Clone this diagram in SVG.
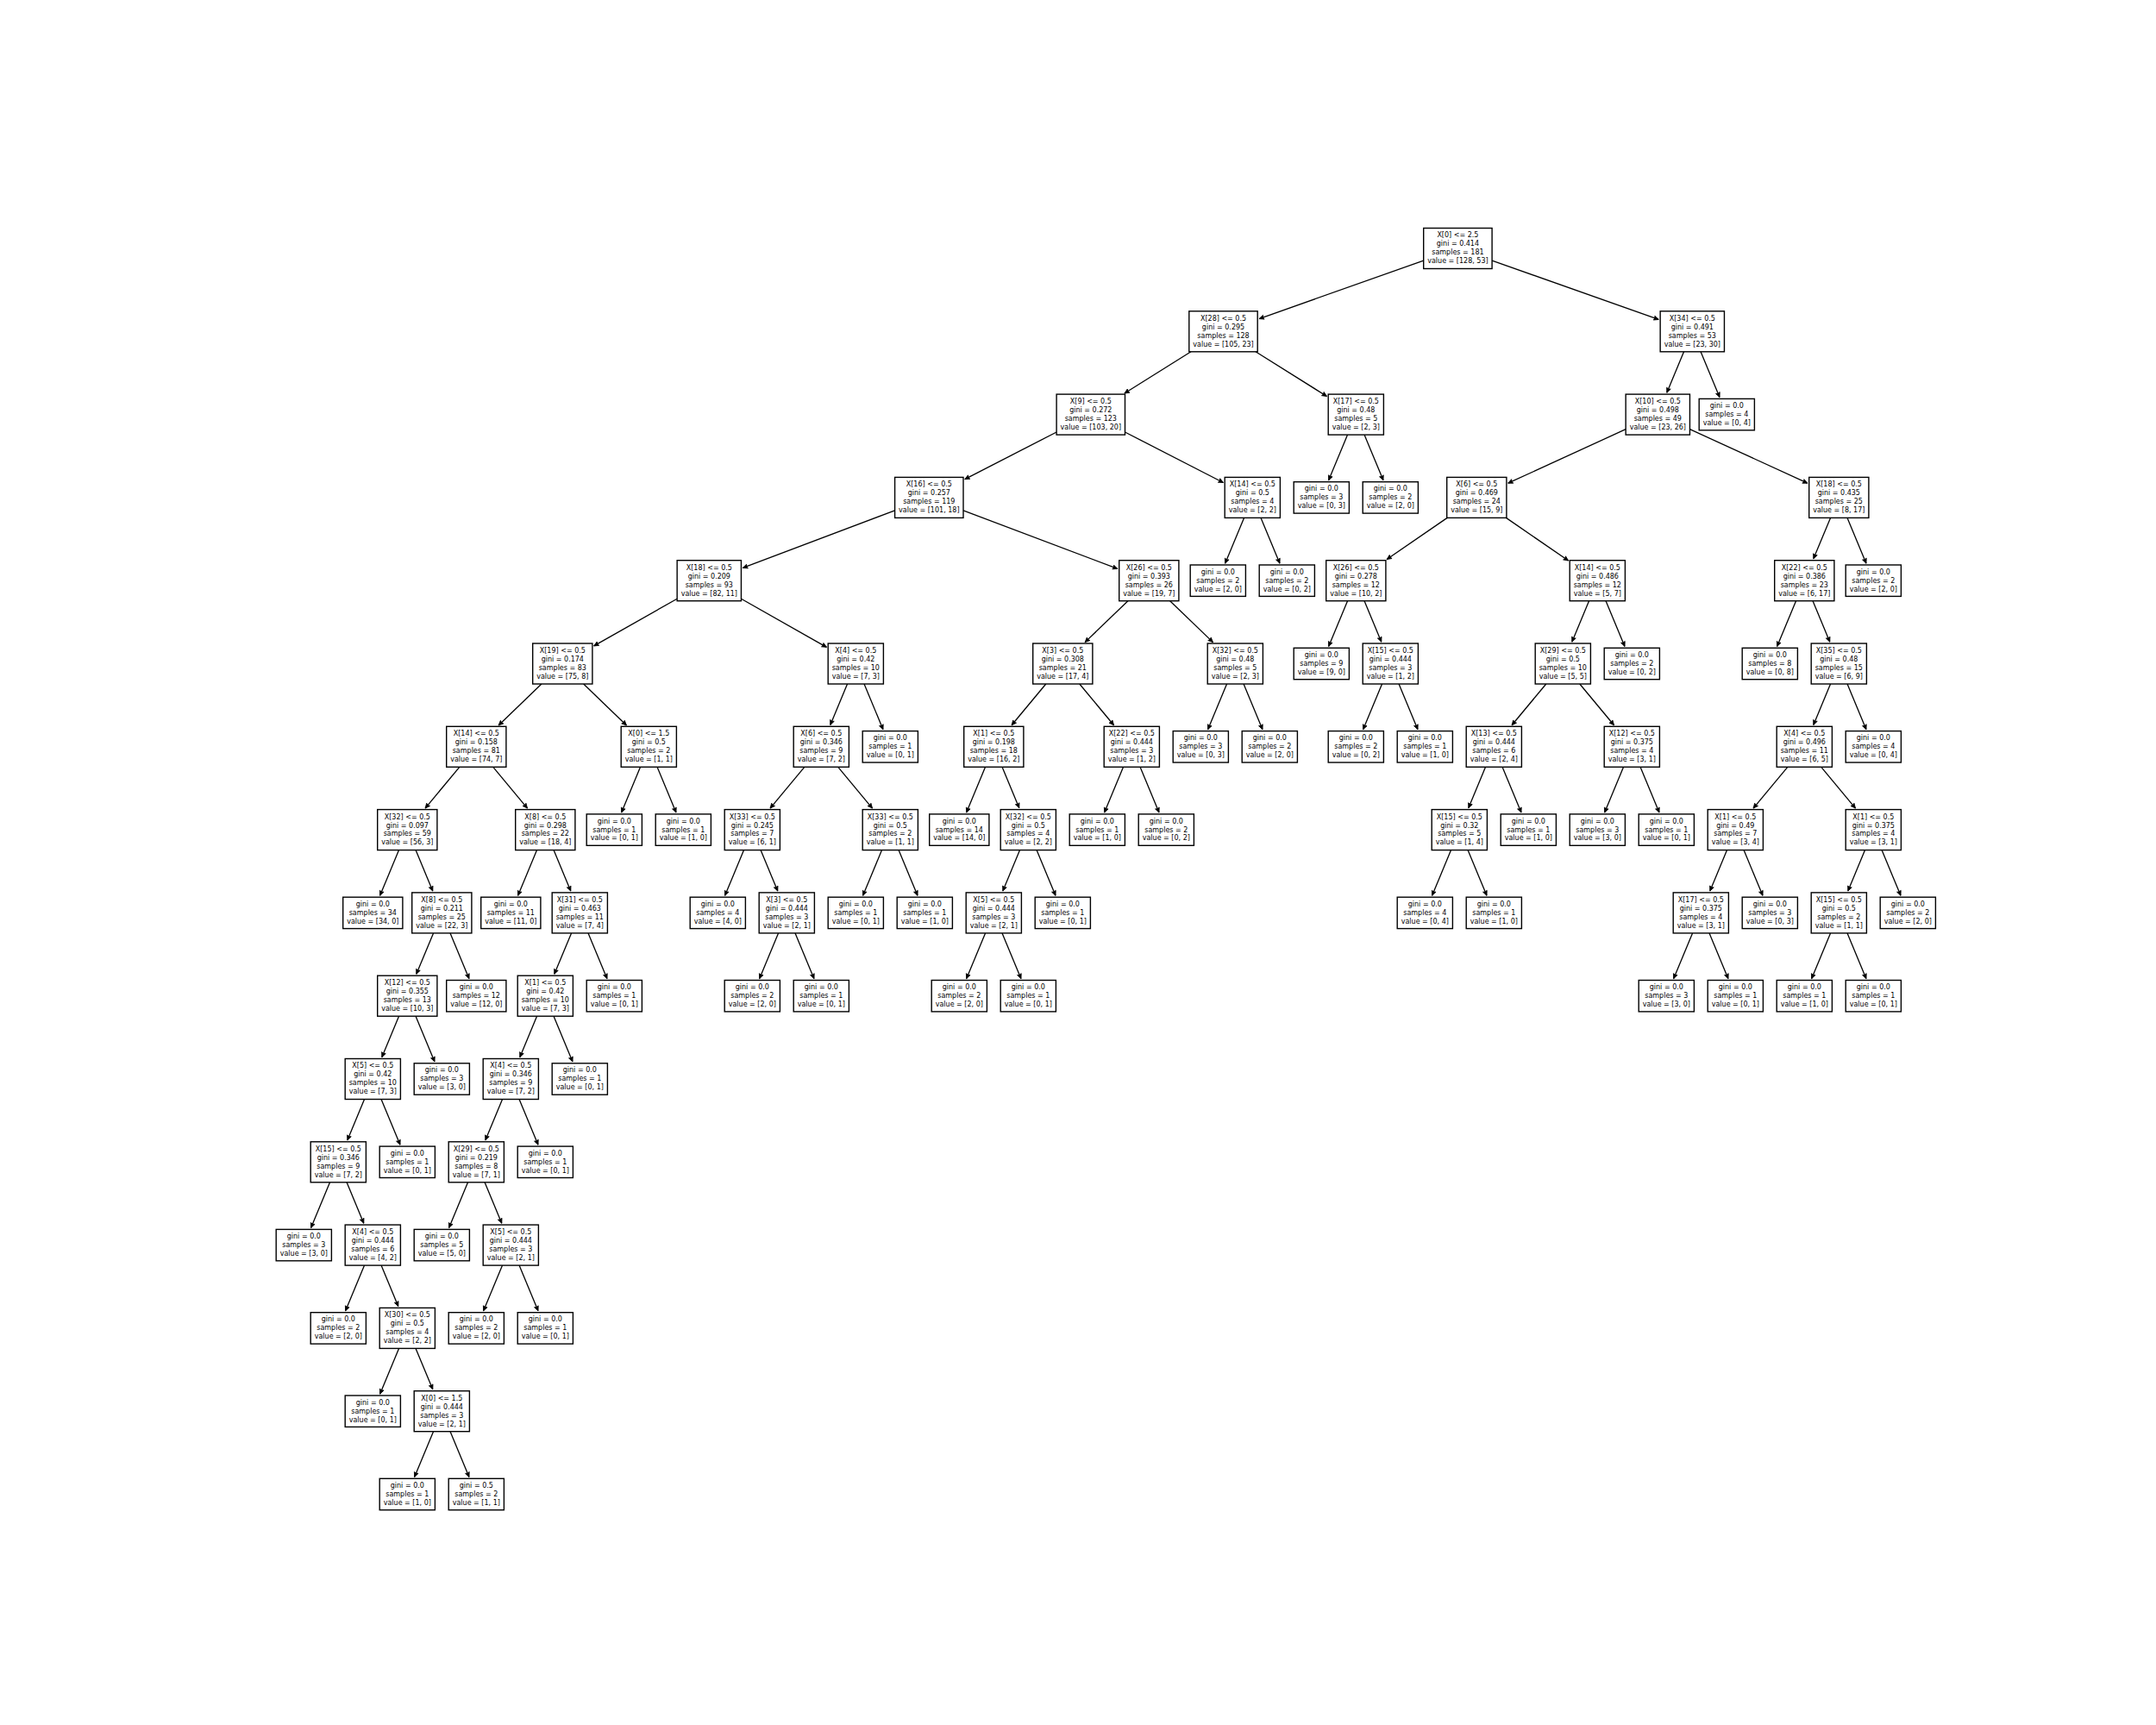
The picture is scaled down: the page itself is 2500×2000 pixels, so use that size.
<svg xmlns="http://www.w3.org/2000/svg" width="2500" height="2000" viewBox="0 0 2500 2000">
<style>
.node rect{fill:#fff;stroke:#000;stroke-width:1.4}
.node text{font-family:"DejaVu Sans","Liberation Sans",sans-serif;font-size:8px;fill:#000;text-anchor:middle}
#edges path{fill:none;stroke:#000;stroke-width:1.3;marker-end:url(#ah)}
</style>
<defs>
<marker id="ah" viewBox="-7 -4 8 8" markerWidth="8" markerHeight="8" refX="0" refY="0" orient="auto" markerUnits="userSpaceOnUse">
<path d="M-5.5,-2.5 L0,0 L-5.5,2.5 L-4.6,0 Z" fill="#000" stroke="#000" stroke-width="0.8" stroke-linejoin="miter"/>
</marker>
</defs>
<rect width="2500" height="2000" fill="#fff"/>
<g id="edges">
<path d="M1650.7 302.06 L1460.09 369.57"/>
<path d="M1730.1 302.06 L1923.24 370.47"/>
<path d="M1380.98 407.8 L1303.96 456.04"/>
<path d="M1456.02 407.8 L1538.47 459.45"/>
<path d="M1225.1 500.99 L1118.78 555.6"/>
<path d="M1304.5 500.99 L1418.44 559.51"/>
<path d="M1037.6 591.89 L861.34 658.46"/>
<path d="M1117 591.89 L1295.83 659.43"/>
<path d="M785.13 694.26 L688.64 748.91"/>
<path d="M859.47 694.26 L958.48 750.34"/>
<path d="M1885.13 497.65 L1748.72 560.2"/>
<path d="M1959.47 497.65 L2095.88 560.2"/>
<path d="M1678.14 600.4 L1608.11 648.57"/>
<path d="M1746.46 600.4 L1818.57 650"/>
<path d="M627.9 793 l-49.76 47.91"/>
<path d="M676.7 793 l49.76 47.91"/>
<path d="M1307.9 696.7 l-49.76 47.91"/>
<path d="M1356.7 696.7 l49.76 47.91"/>
<path d="M532.78 889.3 l-39.68 47.76"/>
<path d="M571.82 889.3 l39.68 47.76"/>
<path d="M932.78 889.3 l-39.68 47.76"/>
<path d="M971.82 889.3 l39.68 47.76"/>
<path d="M1212.78 793 l-39.68 47.76"/>
<path d="M1251.82 793 l39.68 47.76"/>
<path d="M1792.78 793 l-39.68 47.76"/>
<path d="M1831.82 793 l39.68 47.76"/>
<path d="M2072.78 889.3 l-39.68 47.76"/>
<path d="M2111.82 889.3 l39.68 47.76"/>
<path d="M462.54 985.6 l-21.91 52.75"/>
<path d="M482.06 985.6 l19.71 47.45"/>
<path d="M502.54 1081.9 l-19.71 47.45"/>
<path d="M522.06 1081.9 l21.91 52.75"/>
<path d="M462.54 1178.2 l-19.71 47.45"/>
<path d="M482.06 1178.2 l21.91 52.75"/>
<path d="M422.54 1274.5 l-19.71 47.45"/>
<path d="M442.06 1274.5 l21.91 52.75"/>
<path d="M382.54 1370.8 l-21.91 52.75"/>
<path d="M402.06 1370.8 l19.71 47.45"/>
<path d="M422.54 1467.1 l-21.91 52.75"/>
<path d="M442.06 1467.1 l19.71 47.45"/>
<path d="M462.54 1563.4 l-21.91 52.75"/>
<path d="M482.06 1563.4 l19.71 47.45"/>
<path d="M502.54 1659.7 l-21.91 52.75"/>
<path d="M522.06 1659.7 l21.91 52.75"/>
<path d="M622.54 985.6 l-21.91 52.75"/>
<path d="M642.06 985.6 l19.71 47.45"/>
<path d="M662.54 1081.9 l-19.71 47.45"/>
<path d="M682.06 1081.9 l21.91 52.75"/>
<path d="M622.54 1178.2 l-19.71 47.45"/>
<path d="M642.06 1178.2 l21.91 52.75"/>
<path d="M582.54 1274.5 l-19.71 47.45"/>
<path d="M602.06 1274.5 l21.91 52.75"/>
<path d="M542.54 1370.8 l-21.91 52.75"/>
<path d="M562.06 1370.8 l19.71 47.45"/>
<path d="M582.54 1467.1 l-21.91 52.75"/>
<path d="M602.06 1467.1 l21.91 52.75"/>
<path d="M742.54 889.3 l-21.91 52.75"/>
<path d="M762.06 889.3 l21.91 52.75"/>
<path d="M982.54 793 l-19.71 47.45"/>
<path d="M1002.06 793 l21.91 52.75"/>
<path d="M862.54 985.6 l-21.91 52.75"/>
<path d="M882.06 985.6 l19.71 47.45"/>
<path d="M902.54 1081.9 l-21.91 52.75"/>
<path d="M922.06 1081.9 l21.91 52.75"/>
<path d="M1022.54 985.6 l-21.91 52.75"/>
<path d="M1042.06 985.6 l21.91 52.75"/>
<path d="M1142.54 889.3 l-21.91 52.75"/>
<path d="M1162.06 889.3 l19.71 47.45"/>
<path d="M1182.54 985.6 l-19.71 47.45"/>
<path d="M1202.06 985.6 l21.91 52.75"/>
<path d="M1142.54 1081.9 l-21.91 52.75"/>
<path d="M1162.06 1081.9 l21.91 52.75"/>
<path d="M1302.54 889.3 l-21.91 52.75"/>
<path d="M1322.06 889.3 l21.91 52.75"/>
<path d="M1422.54 793 l-21.91 52.75"/>
<path d="M1442.06 793 l21.91 52.75"/>
<path d="M1442.54 600.4 l-21.91 52.75"/>
<path d="M1462.06 600.4 l21.91 52.75"/>
<path d="M1562.54 504.1 l-21.91 52.75"/>
<path d="M1582.06 504.1 l21.91 52.75"/>
<path d="M1952.54 407.8 l-19.71 47.45"/>
<path d="M1972.06 407.8 l21.91 52.75"/>
<path d="M1562.54 696.7 l-21.91 52.75"/>
<path d="M1582.06 696.7 l19.71 47.45"/>
<path d="M1602.54 793 l-21.91 52.75"/>
<path d="M1622.06 793 l21.91 52.75"/>
<path d="M1842.54 696.7 l-19.71 47.45"/>
<path d="M1862.06 696.7 l21.91 52.75"/>
<path d="M1722.54 889.3 l-19.71 47.45"/>
<path d="M1742.06 889.3 l21.91 52.75"/>
<path d="M1682.54 985.6 l-21.91 52.75"/>
<path d="M1702.06 985.6 l21.91 52.75"/>
<path d="M1882.54 889.3 l-21.91 52.75"/>
<path d="M1902.06 889.3 l21.91 52.75"/>
<path d="M2122.54 600.4 l-19.71 47.45"/>
<path d="M2142.06 600.4 l21.91 52.75"/>
<path d="M2082.54 696.7 l-21.91 52.75"/>
<path d="M2102.06 696.7 l19.71 47.45"/>
<path d="M2122.54 793 l-19.71 47.45"/>
<path d="M2142.06 793 l21.91 52.75"/>
<path d="M2002.54 985.6 l-19.71 47.45"/>
<path d="M2022.06 985.6 l21.91 52.75"/>
<path d="M1962.54 1081.9 l-21.91 52.75"/>
<path d="M1982.06 1081.9 l21.91 52.75"/>
<path d="M2162.54 985.6 l-19.71 47.45"/>
<path d="M2182.06 985.6 l21.91 52.75"/>
<path d="M2122.54 1081.9 l-21.91 52.75"/>
<path d="M2142.06 1081.9 l21.91 52.75"/>
</g>
<g id="nodes">
<g id="n0" class="node" transform="translate(1690.4,288)"><rect x="-39.7" y="-23.5" width="79.4" height="47"/><text><tspan x="0" y="-12.6">X[0] &lt;= 2.5</tspan><tspan x="0" y="-2.6">gini = 0.414</tspan><tspan x="0" y="7.4">samples = 181</tspan><tspan x="0" y="17.4">value = [128, 53]</tspan></text></g>
<g id="n1" class="node" transform="translate(1418.5,384.3)"><rect x="-39.7" y="-23.5" width="79.4" height="47"/><text><tspan x="0" y="-12.6">X[28] &lt;= 0.5</tspan><tspan x="0" y="-2.6">gini = 0.295</tspan><tspan x="0" y="7.4">samples = 128</tspan><tspan x="0" y="17.4">value = [105, 23]</tspan></text></g>
<g id="n2" class="node" transform="translate(1264.8,480.6)"><rect x="-39.7" y="-23.5" width="79.4" height="47"/><text><tspan x="0" y="-12.6">X[9] &lt;= 0.5</tspan><tspan x="0" y="-2.6">gini = 0.272</tspan><tspan x="0" y="7.4">samples = 123</tspan><tspan x="0" y="17.4">value = [103, 20]</tspan></text></g>
<g id="n3" class="node" transform="translate(1077.3,576.9)"><rect x="-39.7" y="-23.5" width="79.4" height="47"/><text><tspan x="0" y="-12.6">X[16] &lt;= 0.5</tspan><tspan x="0" y="-2.6">gini = 0.257</tspan><tspan x="0" y="7.4">samples = 119</tspan><tspan x="0" y="17.4">value = [101, 18]</tspan></text></g>
<g id="n4" class="node" transform="translate(822.3,673.2)"><rect x="-37.15" y="-23.5" width="74.3" height="47"/><text><tspan x="0" y="-12.6">X[18] &lt;= 0.5</tspan><tspan x="0" y="-2.6">gini = 0.209</tspan><tspan x="0" y="7.4">samples = 93</tspan><tspan x="0" y="17.4">value = [82, 11]</tspan></text></g>
<g id="n5" class="node" transform="translate(652.3,769.5)"><rect x="-34.6" y="-23.5" width="69.2" height="47"/><text><tspan x="0" y="-12.6">X[19] &lt;= 0.5</tspan><tspan x="0" y="-2.6">gini = 0.174</tspan><tspan x="0" y="7.4">samples = 83</tspan><tspan x="0" y="17.4">value = [75, 8]</tspan></text></g>
<g id="n6" class="node" transform="translate(552.3,865.8)"><rect x="-34.6" y="-23.5" width="69.2" height="47"/><text><tspan x="0" y="-12.6">X[14] &lt;= 0.5</tspan><tspan x="0" y="-2.6">gini = 0.158</tspan><tspan x="0" y="7.4">samples = 81</tspan><tspan x="0" y="17.4">value = [74, 7]</tspan></text></g>
<g id="n7" class="node" transform="translate(472.3,962.1)"><rect x="-34.6" y="-23.5" width="69.2" height="47"/><text><tspan x="0" y="-12.6">X[32] &lt;= 0.5</tspan><tspan x="0" y="-2.6">gini = 0.097</tspan><tspan x="0" y="7.4">samples = 59</tspan><tspan x="0" y="17.4">value = [56, 3]</tspan></text></g>
<g id="n8" class="node" transform="translate(432.3,1058.4)"><rect x="-34.6" y="-18.2" width="69.2" height="36.4"/><text><tspan x="0" y="-7.6">gini = 0.0</tspan><tspan x="0" y="2.4">samples = 34</tspan><tspan x="0" y="12.4">value = [34, 0]</tspan></text></g>
<g id="n9" class="node" transform="translate(512.3,1058.4)"><rect x="-34.6" y="-23.5" width="69.2" height="47"/><text><tspan x="0" y="-12.6">X[8] &lt;= 0.5</tspan><tspan x="0" y="-2.6">gini = 0.211</tspan><tspan x="0" y="7.4">samples = 25</tspan><tspan x="0" y="17.4">value = [22, 3]</tspan></text></g>
<g id="n10" class="node" transform="translate(472.3,1154.7)"><rect x="-34.6" y="-23.5" width="69.2" height="47"/><text><tspan x="0" y="-12.6">X[12] &lt;= 0.5</tspan><tspan x="0" y="-2.6">gini = 0.355</tspan><tspan x="0" y="7.4">samples = 13</tspan><tspan x="0" y="17.4">value = [10, 3]</tspan></text></g>
<g id="n11" class="node" transform="translate(432.3,1251)"><rect x="-32.1" y="-23.5" width="64.2" height="47"/><text><tspan x="0" y="-12.6">X[5] &lt;= 0.5</tspan><tspan x="0" y="-2.6">gini = 0.42</tspan><tspan x="0" y="7.4">samples = 10</tspan><tspan x="0" y="17.4">value = [7, 3]</tspan></text></g>
<g id="n12" class="node" transform="translate(392.3,1347.3)"><rect x="-32.1" y="-23.5" width="64.2" height="47"/><text><tspan x="0" y="-12.6">X[15] &lt;= 0.5</tspan><tspan x="0" y="-2.6">gini = 0.346</tspan><tspan x="0" y="7.4">samples = 9</tspan><tspan x="0" y="17.4">value = [7, 2]</tspan></text></g>
<g id="n13" class="node" transform="translate(352.3,1443.6)"><rect x="-32.1" y="-18.2" width="64.2" height="36.4"/><text><tspan x="0" y="-7.6">gini = 0.0</tspan><tspan x="0" y="2.4">samples = 3</tspan><tspan x="0" y="12.4">value = [3, 0]</tspan></text></g>
<g id="n14" class="node" transform="translate(432.3,1443.6)"><rect x="-32.1" y="-23.5" width="64.2" height="47"/><text><tspan x="0" y="-12.6">X[4] &lt;= 0.5</tspan><tspan x="0" y="-2.6">gini = 0.444</tspan><tspan x="0" y="7.4">samples = 6</tspan><tspan x="0" y="17.4">value = [4, 2]</tspan></text></g>
<g id="n15" class="node" transform="translate(392.3,1539.9)"><rect x="-32.1" y="-18.2" width="64.2" height="36.4"/><text><tspan x="0" y="-7.6">gini = 0.0</tspan><tspan x="0" y="2.4">samples = 2</tspan><tspan x="0" y="12.4">value = [2, 0]</tspan></text></g>
<g id="n16" class="node" transform="translate(472.3,1539.9)"><rect x="-32.1" y="-23.5" width="64.2" height="47"/><text><tspan x="0" y="-12.6">X[30] &lt;= 0.5</tspan><tspan x="0" y="-2.6">gini = 0.5</tspan><tspan x="0" y="7.4">samples = 4</tspan><tspan x="0" y="17.4">value = [2, 2]</tspan></text></g>
<g id="n17" class="node" transform="translate(432.3,1636.2)"><rect x="-32.1" y="-18.2" width="64.2" height="36.4"/><text><tspan x="0" y="-7.6">gini = 0.0</tspan><tspan x="0" y="2.4">samples = 1</tspan><tspan x="0" y="12.4">value = [0, 1]</tspan></text></g>
<g id="n18" class="node" transform="translate(512.3,1636.2)"><rect x="-32.1" y="-23.5" width="64.2" height="47"/><text><tspan x="0" y="-12.6">X[0] &lt;= 1.5</tspan><tspan x="0" y="-2.6">gini = 0.444</tspan><tspan x="0" y="7.4">samples = 3</tspan><tspan x="0" y="17.4">value = [2, 1]</tspan></text></g>
<g id="n19" class="node" transform="translate(472.3,1732.5)"><rect x="-32.1" y="-18.2" width="64.2" height="36.4"/><text><tspan x="0" y="-7.6">gini = 0.0</tspan><tspan x="0" y="2.4">samples = 1</tspan><tspan x="0" y="12.4">value = [1, 0]</tspan></text></g>
<g id="n20" class="node" transform="translate(552.3,1732.5)"><rect x="-32.1" y="-18.2" width="64.2" height="36.4"/><text><tspan x="0" y="-7.6">gini = 0.5</tspan><tspan x="0" y="2.4">samples = 2</tspan><tspan x="0" y="12.4">value = [1, 1]</tspan></text></g>
<g id="n21" class="node" transform="translate(472.3,1347.3)"><rect x="-32.1" y="-18.2" width="64.2" height="36.4"/><text><tspan x="0" y="-7.6">gini = 0.0</tspan><tspan x="0" y="2.4">samples = 1</tspan><tspan x="0" y="12.4">value = [0, 1]</tspan></text></g>
<g id="n22" class="node" transform="translate(512.3,1251)"><rect x="-32.1" y="-18.2" width="64.2" height="36.4"/><text><tspan x="0" y="-7.6">gini = 0.0</tspan><tspan x="0" y="2.4">samples = 3</tspan><tspan x="0" y="12.4">value = [3, 0]</tspan></text></g>
<g id="n23" class="node" transform="translate(552.3,1154.7)"><rect x="-34.6" y="-18.2" width="69.2" height="36.4"/><text><tspan x="0" y="-7.6">gini = 0.0</tspan><tspan x="0" y="2.4">samples = 12</tspan><tspan x="0" y="12.4">value = [12, 0]</tspan></text></g>
<g id="n24" class="node" transform="translate(632.3,962.1)"><rect x="-34.6" y="-23.5" width="69.2" height="47"/><text><tspan x="0" y="-12.6">X[8] &lt;= 0.5</tspan><tspan x="0" y="-2.6">gini = 0.298</tspan><tspan x="0" y="7.4">samples = 22</tspan><tspan x="0" y="17.4">value = [18, 4]</tspan></text></g>
<g id="n25" class="node" transform="translate(592.3,1058.4)"><rect x="-34.6" y="-18.2" width="69.2" height="36.4"/><text><tspan x="0" y="-7.6">gini = 0.0</tspan><tspan x="0" y="2.4">samples = 11</tspan><tspan x="0" y="12.4">value = [11, 0]</tspan></text></g>
<g id="n26" class="node" transform="translate(672.3,1058.4)"><rect x="-32.1" y="-23.5" width="64.2" height="47"/><text><tspan x="0" y="-12.6">X[31] &lt;= 0.5</tspan><tspan x="0" y="-2.6">gini = 0.463</tspan><tspan x="0" y="7.4">samples = 11</tspan><tspan x="0" y="17.4">value = [7, 4]</tspan></text></g>
<g id="n27" class="node" transform="translate(632.3,1154.7)"><rect x="-32.1" y="-23.5" width="64.2" height="47"/><text><tspan x="0" y="-12.6">X[1] &lt;= 0.5</tspan><tspan x="0" y="-2.6">gini = 0.42</tspan><tspan x="0" y="7.4">samples = 10</tspan><tspan x="0" y="17.4">value = [7, 3]</tspan></text></g>
<g id="n28" class="node" transform="translate(712.3,1154.7)"><rect x="-32.1" y="-18.2" width="64.2" height="36.4"/><text><tspan x="0" y="-7.6">gini = 0.0</tspan><tspan x="0" y="2.4">samples = 1</tspan><tspan x="0" y="12.4">value = [0, 1]</tspan></text></g>
<g id="n29" class="node" transform="translate(592.3,1251)"><rect x="-32.1" y="-23.5" width="64.2" height="47"/><text><tspan x="0" y="-12.6">X[4] &lt;= 0.5</tspan><tspan x="0" y="-2.6">gini = 0.346</tspan><tspan x="0" y="7.4">samples = 9</tspan><tspan x="0" y="17.4">value = [7, 2]</tspan></text></g>
<g id="n30" class="node" transform="translate(672.3,1251)"><rect x="-32.1" y="-18.2" width="64.2" height="36.4"/><text><tspan x="0" y="-7.6">gini = 0.0</tspan><tspan x="0" y="2.4">samples = 1</tspan><tspan x="0" y="12.4">value = [0, 1]</tspan></text></g>
<g id="n31" class="node" transform="translate(552.3,1347.3)"><rect x="-32.1" y="-23.5" width="64.2" height="47"/><text><tspan x="0" y="-12.6">X[29] &lt;= 0.5</tspan><tspan x="0" y="-2.6">gini = 0.219</tspan><tspan x="0" y="7.4">samples = 8</tspan><tspan x="0" y="17.4">value = [7, 1]</tspan></text></g>
<g id="n32" class="node" transform="translate(632.3,1347.3)"><rect x="-32.1" y="-18.2" width="64.2" height="36.4"/><text><tspan x="0" y="-7.6">gini = 0.0</tspan><tspan x="0" y="2.4">samples = 1</tspan><tspan x="0" y="12.4">value = [0, 1]</tspan></text></g>
<g id="n33" class="node" transform="translate(512.3,1443.6)"><rect x="-32.1" y="-18.2" width="64.2" height="36.4"/><text><tspan x="0" y="-7.6">gini = 0.0</tspan><tspan x="0" y="2.4">samples = 5</tspan><tspan x="0" y="12.4">value = [5, 0]</tspan></text></g>
<g id="n34" class="node" transform="translate(592.3,1443.6)"><rect x="-32.1" y="-23.5" width="64.2" height="47"/><text><tspan x="0" y="-12.6">X[5] &lt;= 0.5</tspan><tspan x="0" y="-2.6">gini = 0.444</tspan><tspan x="0" y="7.4">samples = 3</tspan><tspan x="0" y="17.4">value = [2, 1]</tspan></text></g>
<g id="n35" class="node" transform="translate(552.3,1539.9)"><rect x="-32.1" y="-18.2" width="64.2" height="36.4"/><text><tspan x="0" y="-7.6">gini = 0.0</tspan><tspan x="0" y="2.4">samples = 2</tspan><tspan x="0" y="12.4">value = [2, 0]</tspan></text></g>
<g id="n36" class="node" transform="translate(632.3,1539.9)"><rect x="-32.1" y="-18.2" width="64.2" height="36.4"/><text><tspan x="0" y="-7.6">gini = 0.0</tspan><tspan x="0" y="2.4">samples = 1</tspan><tspan x="0" y="12.4">value = [0, 1]</tspan></text></g>
<g id="n37" class="node" transform="translate(752.3,865.8)"><rect x="-32.1" y="-23.5" width="64.2" height="47"/><text><tspan x="0" y="-12.6">X[0] &lt;= 1.5</tspan><tspan x="0" y="-2.6">gini = 0.5</tspan><tspan x="0" y="7.4">samples = 2</tspan><tspan x="0" y="17.4">value = [1, 1]</tspan></text></g>
<g id="n38" class="node" transform="translate(712.3,962.1)"><rect x="-32.1" y="-18.2" width="64.2" height="36.4"/><text><tspan x="0" y="-7.6">gini = 0.0</tspan><tspan x="0" y="2.4">samples = 1</tspan><tspan x="0" y="12.4">value = [0, 1]</tspan></text></g>
<g id="n39" class="node" transform="translate(792.3,962.1)"><rect x="-32.1" y="-18.2" width="64.2" height="36.4"/><text><tspan x="0" y="-7.6">gini = 0.0</tspan><tspan x="0" y="2.4">samples = 1</tspan><tspan x="0" y="12.4">value = [1, 0]</tspan></text></g>
<g id="n40" class="node" transform="translate(992.3,769.5)"><rect x="-32.1" y="-23.5" width="64.2" height="47"/><text><tspan x="0" y="-12.6">X[4] &lt;= 0.5</tspan><tspan x="0" y="-2.6">gini = 0.42</tspan><tspan x="0" y="7.4">samples = 10</tspan><tspan x="0" y="17.4">value = [7, 3]</tspan></text></g>
<g id="n41" class="node" transform="translate(952.3,865.8)"><rect x="-32.1" y="-23.5" width="64.2" height="47"/><text><tspan x="0" y="-12.6">X[6] &lt;= 0.5</tspan><tspan x="0" y="-2.6">gini = 0.346</tspan><tspan x="0" y="7.4">samples = 9</tspan><tspan x="0" y="17.4">value = [7, 2]</tspan></text></g>
<g id="n42" class="node" transform="translate(872.3,962.1)"><rect x="-32.1" y="-23.5" width="64.2" height="47"/><text><tspan x="0" y="-12.6">X[33] &lt;= 0.5</tspan><tspan x="0" y="-2.6">gini = 0.245</tspan><tspan x="0" y="7.4">samples = 7</tspan><tspan x="0" y="17.4">value = [6, 1]</tspan></text></g>
<g id="n43" class="node" transform="translate(832.3,1058.4)"><rect x="-32.1" y="-18.2" width="64.2" height="36.4"/><text><tspan x="0" y="-7.6">gini = 0.0</tspan><tspan x="0" y="2.4">samples = 4</tspan><tspan x="0" y="12.4">value = [4, 0]</tspan></text></g>
<g id="n44" class="node" transform="translate(912.3,1058.4)"><rect x="-32.1" y="-23.5" width="64.2" height="47"/><text><tspan x="0" y="-12.6">X[3] &lt;= 0.5</tspan><tspan x="0" y="-2.6">gini = 0.444</tspan><tspan x="0" y="7.4">samples = 3</tspan><tspan x="0" y="17.4">value = [2, 1]</tspan></text></g>
<g id="n45" class="node" transform="translate(872.3,1154.7)"><rect x="-32.1" y="-18.2" width="64.2" height="36.4"/><text><tspan x="0" y="-7.6">gini = 0.0</tspan><tspan x="0" y="2.4">samples = 2</tspan><tspan x="0" y="12.4">value = [2, 0]</tspan></text></g>
<g id="n46" class="node" transform="translate(952.3,1154.7)"><rect x="-32.1" y="-18.2" width="64.2" height="36.4"/><text><tspan x="0" y="-7.6">gini = 0.0</tspan><tspan x="0" y="2.4">samples = 1</tspan><tspan x="0" y="12.4">value = [0, 1]</tspan></text></g>
<g id="n47" class="node" transform="translate(1032.3,962.1)"><rect x="-32.1" y="-23.5" width="64.2" height="47"/><text><tspan x="0" y="-12.6">X[33] &lt;= 0.5</tspan><tspan x="0" y="-2.6">gini = 0.5</tspan><tspan x="0" y="7.4">samples = 2</tspan><tspan x="0" y="17.4">value = [1, 1]</tspan></text></g>
<g id="n48" class="node" transform="translate(992.3,1058.4)"><rect x="-32.1" y="-18.2" width="64.2" height="36.4"/><text><tspan x="0" y="-7.6">gini = 0.0</tspan><tspan x="0" y="2.4">samples = 1</tspan><tspan x="0" y="12.4">value = [0, 1]</tspan></text></g>
<g id="n49" class="node" transform="translate(1072.3,1058.4)"><rect x="-32.1" y="-18.2" width="64.2" height="36.4"/><text><tspan x="0" y="-7.6">gini = 0.0</tspan><tspan x="0" y="2.4">samples = 1</tspan><tspan x="0" y="12.4">value = [1, 0]</tspan></text></g>
<g id="n50" class="node" transform="translate(1032.3,865.8)"><rect x="-32.1" y="-18.2" width="64.2" height="36.4"/><text><tspan x="0" y="-7.6">gini = 0.0</tspan><tspan x="0" y="2.4">samples = 1</tspan><tspan x="0" y="12.4">value = [0, 1]</tspan></text></g>
<g id="n51" class="node" transform="translate(1332.3,673.2)"><rect x="-34.6" y="-23.5" width="69.2" height="47"/><text><tspan x="0" y="-12.6">X[26] &lt;= 0.5</tspan><tspan x="0" y="-2.6">gini = 0.393</tspan><tspan x="0" y="7.4">samples = 26</tspan><tspan x="0" y="17.4">value = [19, 7]</tspan></text></g>
<g id="n52" class="node" transform="translate(1232.3,769.5)"><rect x="-34.6" y="-23.5" width="69.2" height="47"/><text><tspan x="0" y="-12.6">X[3] &lt;= 0.5</tspan><tspan x="0" y="-2.6">gini = 0.308</tspan><tspan x="0" y="7.4">samples = 21</tspan><tspan x="0" y="17.4">value = [17, 4]</tspan></text></g>
<g id="n53" class="node" transform="translate(1152.3,865.8)"><rect x="-34.6" y="-23.5" width="69.2" height="47"/><text><tspan x="0" y="-12.6">X[1] &lt;= 0.5</tspan><tspan x="0" y="-2.6">gini = 0.198</tspan><tspan x="0" y="7.4">samples = 18</tspan><tspan x="0" y="17.4">value = [16, 2]</tspan></text></g>
<g id="n54" class="node" transform="translate(1112.3,962.1)"><rect x="-34.6" y="-18.2" width="69.2" height="36.4"/><text><tspan x="0" y="-7.6">gini = 0.0</tspan><tspan x="0" y="2.4">samples = 14</tspan><tspan x="0" y="12.4">value = [14, 0]</tspan></text></g>
<g id="n55" class="node" transform="translate(1192.3,962.1)"><rect x="-32.1" y="-23.5" width="64.2" height="47"/><text><tspan x="0" y="-12.6">X[32] &lt;= 0.5</tspan><tspan x="0" y="-2.6">gini = 0.5</tspan><tspan x="0" y="7.4">samples = 4</tspan><tspan x="0" y="17.4">value = [2, 2]</tspan></text></g>
<g id="n56" class="node" transform="translate(1152.3,1058.4)"><rect x="-32.1" y="-23.5" width="64.2" height="47"/><text><tspan x="0" y="-12.6">X[5] &lt;= 0.5</tspan><tspan x="0" y="-2.6">gini = 0.444</tspan><tspan x="0" y="7.4">samples = 3</tspan><tspan x="0" y="17.4">value = [2, 1]</tspan></text></g>
<g id="n57" class="node" transform="translate(1112.3,1154.7)"><rect x="-32.1" y="-18.2" width="64.2" height="36.4"/><text><tspan x="0" y="-7.6">gini = 0.0</tspan><tspan x="0" y="2.4">samples = 2</tspan><tspan x="0" y="12.4">value = [2, 0]</tspan></text></g>
<g id="n58" class="node" transform="translate(1192.3,1154.7)"><rect x="-32.1" y="-18.2" width="64.2" height="36.4"/><text><tspan x="0" y="-7.6">gini = 0.0</tspan><tspan x="0" y="2.4">samples = 1</tspan><tspan x="0" y="12.4">value = [0, 1]</tspan></text></g>
<g id="n59" class="node" transform="translate(1232.3,1058.4)"><rect x="-32.1" y="-18.2" width="64.2" height="36.4"/><text><tspan x="0" y="-7.6">gini = 0.0</tspan><tspan x="0" y="2.4">samples = 1</tspan><tspan x="0" y="12.4">value = [0, 1]</tspan></text></g>
<g id="n60" class="node" transform="translate(1312.3,865.8)"><rect x="-32.1" y="-23.5" width="64.2" height="47"/><text><tspan x="0" y="-12.6">X[22] &lt;= 0.5</tspan><tspan x="0" y="-2.6">gini = 0.444</tspan><tspan x="0" y="7.4">samples = 3</tspan><tspan x="0" y="17.4">value = [1, 2]</tspan></text></g>
<g id="n61" class="node" transform="translate(1272.3,962.1)"><rect x="-32.1" y="-18.2" width="64.2" height="36.4"/><text><tspan x="0" y="-7.6">gini = 0.0</tspan><tspan x="0" y="2.4">samples = 1</tspan><tspan x="0" y="12.4">value = [1, 0]</tspan></text></g>
<g id="n62" class="node" transform="translate(1352.3,962.1)"><rect x="-32.1" y="-18.2" width="64.2" height="36.4"/><text><tspan x="0" y="-7.6">gini = 0.0</tspan><tspan x="0" y="2.4">samples = 2</tspan><tspan x="0" y="12.4">value = [0, 2]</tspan></text></g>
<g id="n63" class="node" transform="translate(1432.3,769.5)"><rect x="-32.1" y="-23.5" width="64.2" height="47"/><text><tspan x="0" y="-12.6">X[32] &lt;= 0.5</tspan><tspan x="0" y="-2.6">gini = 0.48</tspan><tspan x="0" y="7.4">samples = 5</tspan><tspan x="0" y="17.4">value = [2, 3]</tspan></text></g>
<g id="n64" class="node" transform="translate(1392.3,865.8)"><rect x="-32.1" y="-18.2" width="64.2" height="36.4"/><text><tspan x="0" y="-7.6">gini = 0.0</tspan><tspan x="0" y="2.4">samples = 3</tspan><tspan x="0" y="12.4">value = [0, 3]</tspan></text></g>
<g id="n65" class="node" transform="translate(1472.3,865.8)"><rect x="-32.1" y="-18.2" width="64.2" height="36.4"/><text><tspan x="0" y="-7.6">gini = 0.0</tspan><tspan x="0" y="2.4">samples = 2</tspan><tspan x="0" y="12.4">value = [2, 0]</tspan></text></g>
<g id="n66" class="node" transform="translate(1452.3,576.9)"><rect x="-32.1" y="-23.5" width="64.2" height="47"/><text><tspan x="0" y="-12.6">X[14] &lt;= 0.5</tspan><tspan x="0" y="-2.6">gini = 0.5</tspan><tspan x="0" y="7.4">samples = 4</tspan><tspan x="0" y="17.4">value = [2, 2]</tspan></text></g>
<g id="n67" class="node" transform="translate(1412.3,673.2)"><rect x="-32.1" y="-18.2" width="64.2" height="36.4"/><text><tspan x="0" y="-7.6">gini = 0.0</tspan><tspan x="0" y="2.4">samples = 2</tspan><tspan x="0" y="12.4">value = [2, 0]</tspan></text></g>
<g id="n68" class="node" transform="translate(1492.3,673.2)"><rect x="-32.1" y="-18.2" width="64.2" height="36.4"/><text><tspan x="0" y="-7.6">gini = 0.0</tspan><tspan x="0" y="2.4">samples = 2</tspan><tspan x="0" y="12.4">value = [0, 2]</tspan></text></g>
<g id="n69" class="node" transform="translate(1572.3,480.6)"><rect x="-32.1" y="-23.5" width="64.2" height="47"/><text><tspan x="0" y="-12.6">X[17] &lt;= 0.5</tspan><tspan x="0" y="-2.6">gini = 0.48</tspan><tspan x="0" y="7.4">samples = 5</tspan><tspan x="0" y="17.4">value = [2, 3]</tspan></text></g>
<g id="n70" class="node" transform="translate(1532.3,576.9)"><rect x="-32.1" y="-18.2" width="64.2" height="36.4"/><text><tspan x="0" y="-7.6">gini = 0.0</tspan><tspan x="0" y="2.4">samples = 3</tspan><tspan x="0" y="12.4">value = [0, 3]</tspan></text></g>
<g id="n71" class="node" transform="translate(1612.3,576.9)"><rect x="-32.1" y="-18.2" width="64.2" height="36.4"/><text><tspan x="0" y="-7.6">gini = 0.0</tspan><tspan x="0" y="2.4">samples = 2</tspan><tspan x="0" y="12.4">value = [2, 0]</tspan></text></g>
<g id="n72" class="node" transform="translate(1962.3,384.3)"><rect x="-37.15" y="-23.5" width="74.3" height="47"/><text><tspan x="0" y="-12.6">X[34] &lt;= 0.5</tspan><tspan x="0" y="-2.6">gini = 0.491</tspan><tspan x="0" y="7.4">samples = 53</tspan><tspan x="0" y="17.4">value = [23, 30]</tspan></text></g>
<g id="n73" class="node" transform="translate(1922.3,480.6)"><rect x="-37.15" y="-23.5" width="74.3" height="47"/><text><tspan x="0" y="-12.6">X[10] &lt;= 0.5</tspan><tspan x="0" y="-2.6">gini = 0.498</tspan><tspan x="0" y="7.4">samples = 49</tspan><tspan x="0" y="17.4">value = [23, 26]</tspan></text></g>
<g id="n74" class="node" transform="translate(2002.3,480.6)"><rect x="-32.1" y="-18.2" width="64.2" height="36.4"/><text><tspan x="0" y="-7.6">gini = 0.0</tspan><tspan x="0" y="2.4">samples = 4</tspan><tspan x="0" y="12.4">value = [0, 4]</tspan></text></g>
<g id="n75" class="node" transform="translate(1712.3,576.9)"><rect x="-34.6" y="-23.5" width="69.2" height="47"/><text><tspan x="0" y="-12.6">X[6] &lt;= 0.5</tspan><tspan x="0" y="-2.6">gini = 0.469</tspan><tspan x="0" y="7.4">samples = 24</tspan><tspan x="0" y="17.4">value = [15, 9]</tspan></text></g>
<g id="n76" class="node" transform="translate(1572.3,673.2)"><rect x="-34.6" y="-23.5" width="69.2" height="47"/><text><tspan x="0" y="-12.6">X[26] &lt;= 0.5</tspan><tspan x="0" y="-2.6">gini = 0.278</tspan><tspan x="0" y="7.4">samples = 12</tspan><tspan x="0" y="17.4">value = [10, 2]</tspan></text></g>
<g id="n77" class="node" transform="translate(1532.3,769.5)"><rect x="-32.1" y="-18.2" width="64.2" height="36.4"/><text><tspan x="0" y="-7.6">gini = 0.0</tspan><tspan x="0" y="2.4">samples = 9</tspan><tspan x="0" y="12.4">value = [9, 0]</tspan></text></g>
<g id="n78" class="node" transform="translate(1612.3,769.5)"><rect x="-32.1" y="-23.5" width="64.2" height="47"/><text><tspan x="0" y="-12.6">X[15] &lt;= 0.5</tspan><tspan x="0" y="-2.6">gini = 0.444</tspan><tspan x="0" y="7.4">samples = 3</tspan><tspan x="0" y="17.4">value = [1, 2]</tspan></text></g>
<g id="n79" class="node" transform="translate(1572.3,865.8)"><rect x="-32.1" y="-18.2" width="64.2" height="36.4"/><text><tspan x="0" y="-7.6">gini = 0.0</tspan><tspan x="0" y="2.4">samples = 2</tspan><tspan x="0" y="12.4">value = [0, 2]</tspan></text></g>
<g id="n80" class="node" transform="translate(1652.3,865.8)"><rect x="-32.1" y="-18.2" width="64.2" height="36.4"/><text><tspan x="0" y="-7.6">gini = 0.0</tspan><tspan x="0" y="2.4">samples = 1</tspan><tspan x="0" y="12.4">value = [1, 0]</tspan></text></g>
<g id="n81" class="node" transform="translate(1852.3,673.2)"><rect x="-32.1" y="-23.5" width="64.2" height="47"/><text><tspan x="0" y="-12.6">X[14] &lt;= 0.5</tspan><tspan x="0" y="-2.6">gini = 0.486</tspan><tspan x="0" y="7.4">samples = 12</tspan><tspan x="0" y="17.4">value = [5, 7]</tspan></text></g>
<g id="n82" class="node" transform="translate(1812.3,769.5)"><rect x="-32.1" y="-23.5" width="64.2" height="47"/><text><tspan x="0" y="-12.6">X[29] &lt;= 0.5</tspan><tspan x="0" y="-2.6">gini = 0.5</tspan><tspan x="0" y="7.4">samples = 10</tspan><tspan x="0" y="17.4">value = [5, 5]</tspan></text></g>
<g id="n83" class="node" transform="translate(1732.3,865.8)"><rect x="-32.1" y="-23.5" width="64.2" height="47"/><text><tspan x="0" y="-12.6">X[13] &lt;= 0.5</tspan><tspan x="0" y="-2.6">gini = 0.444</tspan><tspan x="0" y="7.4">samples = 6</tspan><tspan x="0" y="17.4">value = [2, 4]</tspan></text></g>
<g id="n84" class="node" transform="translate(1692.3,962.1)"><rect x="-32.1" y="-23.5" width="64.2" height="47"/><text><tspan x="0" y="-12.6">X[15] &lt;= 0.5</tspan><tspan x="0" y="-2.6">gini = 0.32</tspan><tspan x="0" y="7.4">samples = 5</tspan><tspan x="0" y="17.4">value = [1, 4]</tspan></text></g>
<g id="n85" class="node" transform="translate(1652.3,1058.4)"><rect x="-32.1" y="-18.2" width="64.2" height="36.4"/><text><tspan x="0" y="-7.6">gini = 0.0</tspan><tspan x="0" y="2.4">samples = 4</tspan><tspan x="0" y="12.4">value = [0, 4]</tspan></text></g>
<g id="n86" class="node" transform="translate(1732.3,1058.4)"><rect x="-32.1" y="-18.2" width="64.2" height="36.4"/><text><tspan x="0" y="-7.6">gini = 0.0</tspan><tspan x="0" y="2.4">samples = 1</tspan><tspan x="0" y="12.4">value = [1, 0]</tspan></text></g>
<g id="n87" class="node" transform="translate(1772.3,962.1)"><rect x="-32.1" y="-18.2" width="64.2" height="36.4"/><text><tspan x="0" y="-7.6">gini = 0.0</tspan><tspan x="0" y="2.4">samples = 1</tspan><tspan x="0" y="12.4">value = [1, 0]</tspan></text></g>
<g id="n88" class="node" transform="translate(1892.3,865.8)"><rect x="-32.1" y="-23.5" width="64.2" height="47"/><text><tspan x="0" y="-12.6">X[12] &lt;= 0.5</tspan><tspan x="0" y="-2.6">gini = 0.375</tspan><tspan x="0" y="7.4">samples = 4</tspan><tspan x="0" y="17.4">value = [3, 1]</tspan></text></g>
<g id="n89" class="node" transform="translate(1852.3,962.1)"><rect x="-32.1" y="-18.2" width="64.2" height="36.4"/><text><tspan x="0" y="-7.6">gini = 0.0</tspan><tspan x="0" y="2.4">samples = 3</tspan><tspan x="0" y="12.4">value = [3, 0]</tspan></text></g>
<g id="n90" class="node" transform="translate(1932.3,962.1)"><rect x="-32.1" y="-18.2" width="64.2" height="36.4"/><text><tspan x="0" y="-7.6">gini = 0.0</tspan><tspan x="0" y="2.4">samples = 1</tspan><tspan x="0" y="12.4">value = [0, 1]</tspan></text></g>
<g id="n91" class="node" transform="translate(1892.3,769.5)"><rect x="-32.1" y="-18.2" width="64.2" height="36.4"/><text><tspan x="0" y="-7.6">gini = 0.0</tspan><tspan x="0" y="2.4">samples = 2</tspan><tspan x="0" y="12.4">value = [0, 2]</tspan></text></g>
<g id="n92" class="node" transform="translate(2132.3,576.9)"><rect x="-34.6" y="-23.5" width="69.2" height="47"/><text><tspan x="0" y="-12.6">X[18] &lt;= 0.5</tspan><tspan x="0" y="-2.6">gini = 0.435</tspan><tspan x="0" y="7.4">samples = 25</tspan><tspan x="0" y="17.4">value = [8, 17]</tspan></text></g>
<g id="n93" class="node" transform="translate(2092.3,673.2)"><rect x="-34.6" y="-23.5" width="69.2" height="47"/><text><tspan x="0" y="-12.6">X[22] &lt;= 0.5</tspan><tspan x="0" y="-2.6">gini = 0.386</tspan><tspan x="0" y="7.4">samples = 23</tspan><tspan x="0" y="17.4">value = [6, 17]</tspan></text></g>
<g id="n94" class="node" transform="translate(2052.3,769.5)"><rect x="-32.1" y="-18.2" width="64.2" height="36.4"/><text><tspan x="0" y="-7.6">gini = 0.0</tspan><tspan x="0" y="2.4">samples = 8</tspan><tspan x="0" y="12.4">value = [0, 8]</tspan></text></g>
<g id="n95" class="node" transform="translate(2132.3,769.5)"><rect x="-32.1" y="-23.5" width="64.2" height="47"/><text><tspan x="0" y="-12.6">X[35] &lt;= 0.5</tspan><tspan x="0" y="-2.6">gini = 0.48</tspan><tspan x="0" y="7.4">samples = 15</tspan><tspan x="0" y="17.4">value = [6, 9]</tspan></text></g>
<g id="n96" class="node" transform="translate(2092.3,865.8)"><rect x="-32.1" y="-23.5" width="64.2" height="47"/><text><tspan x="0" y="-12.6">X[4] &lt;= 0.5</tspan><tspan x="0" y="-2.6">gini = 0.496</tspan><tspan x="0" y="7.4">samples = 11</tspan><tspan x="0" y="17.4">value = [6, 5]</tspan></text></g>
<g id="n97" class="node" transform="translate(2012.3,962.1)"><rect x="-32.1" y="-23.5" width="64.2" height="47"/><text><tspan x="0" y="-12.6">X[1] &lt;= 0.5</tspan><tspan x="0" y="-2.6">gini = 0.49</tspan><tspan x="0" y="7.4">samples = 7</tspan><tspan x="0" y="17.4">value = [3, 4]</tspan></text></g>
<g id="n98" class="node" transform="translate(1972.3,1058.4)"><rect x="-32.1" y="-23.5" width="64.2" height="47"/><text><tspan x="0" y="-12.6">X[17] &lt;= 0.5</tspan><tspan x="0" y="-2.6">gini = 0.375</tspan><tspan x="0" y="7.4">samples = 4</tspan><tspan x="0" y="17.4">value = [3, 1]</tspan></text></g>
<g id="n99" class="node" transform="translate(1932.3,1154.7)"><rect x="-32.1" y="-18.2" width="64.2" height="36.4"/><text><tspan x="0" y="-7.6">gini = 0.0</tspan><tspan x="0" y="2.4">samples = 3</tspan><tspan x="0" y="12.4">value = [3, 0]</tspan></text></g>
<g id="n100" class="node" transform="translate(2012.3,1154.7)"><rect x="-32.1" y="-18.2" width="64.2" height="36.4"/><text><tspan x="0" y="-7.6">gini = 0.0</tspan><tspan x="0" y="2.4">samples = 1</tspan><tspan x="0" y="12.4">value = [0, 1]</tspan></text></g>
<g id="n101" class="node" transform="translate(2052.3,1058.4)"><rect x="-32.1" y="-18.2" width="64.2" height="36.4"/><text><tspan x="0" y="-7.6">gini = 0.0</tspan><tspan x="0" y="2.4">samples = 3</tspan><tspan x="0" y="12.4">value = [0, 3]</tspan></text></g>
<g id="n102" class="node" transform="translate(2172.3,962.1)"><rect x="-32.1" y="-23.5" width="64.2" height="47"/><text><tspan x="0" y="-12.6">X[1] &lt;= 0.5</tspan><tspan x="0" y="-2.6">gini = 0.375</tspan><tspan x="0" y="7.4">samples = 4</tspan><tspan x="0" y="17.4">value = [3, 1]</tspan></text></g>
<g id="n103" class="node" transform="translate(2132.3,1058.4)"><rect x="-32.1" y="-23.5" width="64.2" height="47"/><text><tspan x="0" y="-12.6">X[15] &lt;= 0.5</tspan><tspan x="0" y="-2.6">gini = 0.5</tspan><tspan x="0" y="7.4">samples = 2</tspan><tspan x="0" y="17.4">value = [1, 1]</tspan></text></g>
<g id="n104" class="node" transform="translate(2092.3,1154.7)"><rect x="-32.1" y="-18.2" width="64.2" height="36.4"/><text><tspan x="0" y="-7.6">gini = 0.0</tspan><tspan x="0" y="2.4">samples = 1</tspan><tspan x="0" y="12.4">value = [1, 0]</tspan></text></g>
<g id="n105" class="node" transform="translate(2172.3,1154.7)"><rect x="-32.1" y="-18.2" width="64.2" height="36.4"/><text><tspan x="0" y="-7.6">gini = 0.0</tspan><tspan x="0" y="2.4">samples = 1</tspan><tspan x="0" y="12.4">value = [0, 1]</tspan></text></g>
<g id="n106" class="node" transform="translate(2212.3,1058.4)"><rect x="-32.1" y="-18.2" width="64.2" height="36.4"/><text><tspan x="0" y="-7.6">gini = 0.0</tspan><tspan x="0" y="2.4">samples = 2</tspan><tspan x="0" y="12.4">value = [2, 0]</tspan></text></g>
<g id="n107" class="node" transform="translate(2172.3,865.8)"><rect x="-32.1" y="-18.2" width="64.2" height="36.4"/><text><tspan x="0" y="-7.6">gini = 0.0</tspan><tspan x="0" y="2.4">samples = 4</tspan><tspan x="0" y="12.4">value = [0, 4]</tspan></text></g>
<g id="n108" class="node" transform="translate(2172.3,673.2)"><rect x="-32.1" y="-18.2" width="64.2" height="36.4"/><text><tspan x="0" y="-7.6">gini = 0.0</tspan><tspan x="0" y="2.4">samples = 2</tspan><tspan x="0" y="12.4">value = [2, 0]</tspan></text></g>
</g>
</svg>
